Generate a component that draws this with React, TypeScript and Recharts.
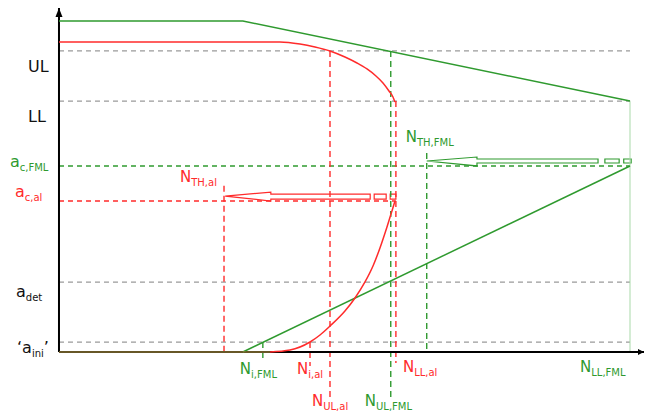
import React from 'react';
import { ComposedChart, Line, XAxis, YAxis, ReferenceLine, ReferenceArea, ReferenceDot } from 'recharts';

// schematic units: N (cycles) 0..100 = end of FML life, a (crack length) 0..100 = top of FML curve
const RED = '#ff2b2b';
const GREEN = '#2f9a2f';
const GRAY = '#9a9a9a';
const FONT = '"DejaVu Sans", Verdana, sans-serif';

// crack length levels
const aUL = 90.94;
const aLL = 75.8;
const acFML = 56.2;
const acAl = 45.6;
const aDet = 21.1;
const aIni = 3.0;

// cycle counts
const N_TH_al = 28.9;
const N_i_FML = 35.7;
const N_i_al = 43.96;
const N_UL_al = 47.46;
const N_UL_FML = 58.1;
const N_LL_al = 59.0;
const N_TH_FML = 64.4;
const N_LL_FML = 100;

// residual strength curves
const fmlStrength = [
  { x: 0, y: 100 }, { x: 32.2, y: 100 }, { x: 100, y: 75.8 },
];
const alStrength = [
  { x: 0, y: 93.66 }, { x: 38.7, y: 93.66 }, { x: 42.2, y: 93.05 }, { x: 44.83, y: 92.15 },
  { x: 47.46, y: 90.94 }, { x: 50.08, y: 89.12 }, { x: 52.19, y: 87.31 }, { x: 53.94, y: 85.5 },
  { x: 55.51, y: 83.38 }, { x: 56.74, y: 81.27 }, { x: 57.79, y: 78.85 }, { x: 58.49, y: 77.04 },
  { x: 58.84, y: 75.53 },
];

// crack growth curves
const fmlGrowth = [{ x: 32.2, y: 0 }, { x: 100, y: 56.2 }];
const alGrowth = [
  { x: 36.95, y: 0 }, { x: 40.45, y: 0.6 }, { x: 43.96, y: 3.02 }, { x: 45.71, y: 5.14 },
  { x: 47.46, y: 7.85 }, { x: 50.08, y: 12.39 }, { x: 51.84, y: 16.31 }, { x: 53.59, y: 21.15 },
  { x: 54.99, y: 25.98 }, { x: 56.21, y: 31.42 }, { x: 57.44, y: 37.76 }, { x: 58.31, y: 42.6 },
  { x: 58.84, y: 45.62 },
];
const sharedBase = [{ x: 0, y: 0 }, { x: 36.95, y: 0 }];

// hollow inspection-interval arrows
const alArrow = [
  { x: 29.1, y: 47.1 }, { x: 37.1, y: 48.3 }, { x: 37.1, y: 47.7 }, { x: 54.5, y: 47.7 },
  { x: 54.5, y: 46.2 }, { x: 37.1, y: 46.2 }, { x: 37.1, y: 45.6 }, { x: 29.1, y: 47.1 },
];
const alBoxes = [
  { x1: 55.2, x2: 57.3, y1: 46.2, y2: 47.7 },
  { x1: 58.0, x2: 59.0, y1: 46.2, y2: 47.7 },
];
const fmlArrow = [
  { x: 64.4, y: 57.7 }, { x: 73.2, y: 58.9 }, { x: 73.2, y: 58.3 }, { x: 94.4, y: 58.3 },
  { x: 94.4, y: 57.1 }, { x: 73.2, y: 57.1 }, { x: 73.2, y: 56.2 }, { x: 64.4, y: 57.7 },
];
const fmlBoxes = [
  { x1: 95.6, x2: 98.1, y1: 57.1, y2: 58.3 },
  { x1: 98.9, x2: 100.2, y1: 57.1, y2: 58.3 },
];

const grayLevels = [aUL, aLL, aDet, aIni];

// vertical dashed markers: x, from a, to a, colour
const markers = [
  { x: N_UL_al, from: aUL, to: -13.6, c: RED },
  { x: N_UL_FML, from: aUL, to: -13.6, c: GREEN },
  { x: N_LL_al, from: aLL, to: -3.3, c: RED },
  { x: N_TH_FML, from: 60.1, to: 0, c: GREEN },
  { x: N_TH_al, from: 50.2, to: 0, c: RED },
  { x: N_i_FML, from: aIni, to: -3.0, c: GREEN },
  { x: N_i_al, from: aIni, to: -4.2, c: RED },
];

// labels: anchor in data units, offset in px
const labels = [
  { x: 0, y: aUL, dx: -31, dy: 21, main: 'UL', sub: '', post: '', c: '#111', fs: 16 },
  { x: 0, y: aLL, dx: -31, dy: 21, main: 'LL', sub: '', post: '', c: '#111', fs: 16 },
  { x: 0, y: acFML, dx: -49, dy: 1, main: 'a', sub: 'c,FML', post: '', c: GREEN, fs: 16 },
  { x: 0, y: acAl, dx: -44, dy: -4, main: 'a', sub: 'c,al', post: '', c: RED, fs: 16 },
  { x: 0, y: aDet, dx: -43, dy: 15, main: 'a', sub: 'det', post: '', c: '#111', fs: 16 },
  { x: 0, y: aIni, dx: -42, dy: 11, main: '\u2018a', sub: 'ini', post: '\u2019', c: '#111', fs: 16 },
  { x: N_TH_al, y: acAl, dx: -44, dy: -19, main: 'N', sub: 'TH,al', post: '', c: RED, fs: 15 },
  { x: N_TH_FML, y: acFML, dx: -21, dy: -24, main: 'N', sub: 'TH,FML', post: '', c: GREEN, fs: 15 },
  { x: N_i_FML, y: 0, dx: -23, dy: 22, main: 'N', sub: 'i,FML', post: '', c: GREEN, fs: 15 },
  { x: N_i_al, y: 0, dx: -13, dy: 22, main: 'N', sub: 'i,al', post: '', c: RED, fs: 15 },
  { x: N_LL_al, y: 0, dx: 7, dy: 20, main: 'N', sub: 'LL,al', post: '', c: RED, fs: 15 },
  { x: N_LL_FML, y: 0, dx: -50, dy: 20, main: 'N', sub: 'LL,FML', post: '', c: GREEN, fs: 15 },
  { x: N_UL_al, y: 0, dx: -18, dy: 54, main: 'N', sub: 'UL,al', post: '', c: RED, fs: 15 },
  { x: N_UL_FML, y: 0, dx: -26, dy: 54, main: 'N', sub: 'UL,FML', post: '', c: GREEN, fs: 15 },
];

const xMax = 102.45;
const yMax = 103.9;

const lineProps = { dataKey: 'y', dot: false, activeDot: false, isAnimationActive: false } as const;

export default function App() {
  return (
    <div style={{ position: 'absolute', left: 0, top: 0, background: '#fff' }}>
      <ComposedChart width={646} height={416} margin={{ top: 0, right: 0, bottom: 0, left: 0 }}>
        <XAxis type="number" dataKey="x" domain={[-10.33, 102.8]} hide allowDataOverflow />
        <YAxis type="number" domain={[-19.34, 106.34]} hide allowDataOverflow />

        {grayLevels.map((a, i) => (
          <ReferenceLine key={'g' + i} segment={[{ x: 0, y: a }, { x: 100, y: a }]}
            stroke={GRAY} strokeWidth={1.2} strokeDasharray="5 4" />
        ))}
        <ReferenceLine segment={[{ x: 0, y: acFML }, { x: 100, y: acFML }]}
          stroke={GREEN} strokeWidth={1.4} strokeDasharray="5 4" />
        <ReferenceLine segment={[{ x: 0, y: acAl }, { x: N_LL_al, y: acAl }]}
          stroke={RED} strokeWidth={1.4} strokeDasharray="5 4" />
        {markers.map((m, i) => (
          <ReferenceLine key={'m' + i} segment={[{ x: m.x, y: m.from }, { x: m.x, y: m.to }]}
            stroke={m.c} strokeWidth={1.4} strokeDasharray="6 4" />
        ))}
        <ReferenceLine segment={[{ x: N_LL_FML, y: aLL }, { x: N_LL_FML, y: 0 }]}
          stroke="#a9d9a9" strokeWidth={1} />

        {/* axes */}
        <ReferenceLine segment={[{ x: 0, y: 0 }, { x: 0, y: yMax }]} stroke="#000" strokeWidth={2} />
        <ReferenceLine segment={[{ x: 0, y: 0 }, { x: xMax, y: 0 }]} stroke="#000" strokeWidth={2} />
        <ReferenceDot x={0} y={yMax} r={0} ifOverflow="visible"
          shape={(p: any) => <path d={`M${p.cx},${p.cy} L${p.cx - 3.5},${p.cy + 9} L${p.cx + 3.5},${p.cy + 9} Z`} fill="#000" />} />
        <ReferenceDot x={xMax} y={0} r={0} ifOverflow="visible"
          shape={(p: any) => <path d={`M${p.cx},${p.cy} L${p.cx - 6},${p.cy - 3} L${p.cx - 6},${p.cy + 3} Z`} fill="#000" />} />

        <Line {...lineProps} data={fmlStrength} type="linear" stroke={GREEN} strokeWidth={1.5} />
        <Line {...lineProps} data={alStrength} type="monotone" stroke={RED} strokeWidth={1.5} />
        <Line {...lineProps} data={fmlGrowth} type="linear" stroke={GREEN} strokeWidth={1.5} />
        <Line {...lineProps} data={alGrowth} type="monotone" stroke={RED} strokeWidth={1.5} />
        <Line {...lineProps} data={sharedBase} type="linear" stroke="#8a7434" strokeWidth={1.5} />

        <Line {...lineProps} data={alArrow} type="linear" stroke={RED} strokeWidth={1.2} />
        {alBoxes.map((b, i) => (
          <ReferenceArea key={'ab' + i} {...b} fill="#fff" fillOpacity={1} stroke={RED} strokeWidth={1.2} />
        ))}
        <Line {...lineProps} data={fmlArrow} type="linear" stroke={GREEN} strokeWidth={1.2} />
        {fmlBoxes.map((b, i) => (
          <ReferenceArea key={'fb' + i} {...b} fill="#fff" fillOpacity={1} stroke={GREEN} strokeWidth={1.2} />
        ))}

        {labels.map((l, i) => (
          <ReferenceDot key={'l' + i} x={l.x} y={l.y} r={0} ifOverflow="visible"
            shape={(p: any) => (
              <text x={p.cx + l.dx} y={p.cy + l.dy} fill={l.c} fontFamily={FONT} fontSize={l.fs}>
                <tspan>{l.main}</tspan>
                {l.sub ? <tspan fontSize={10} dy={4}>{l.sub}</tspan> : null}
                {l.post ? <tspan dy={-4}>{l.post}</tspan> : null}
              </text>
            )} />
        ))}
      </ComposedChart>
    </div>
  );
}
